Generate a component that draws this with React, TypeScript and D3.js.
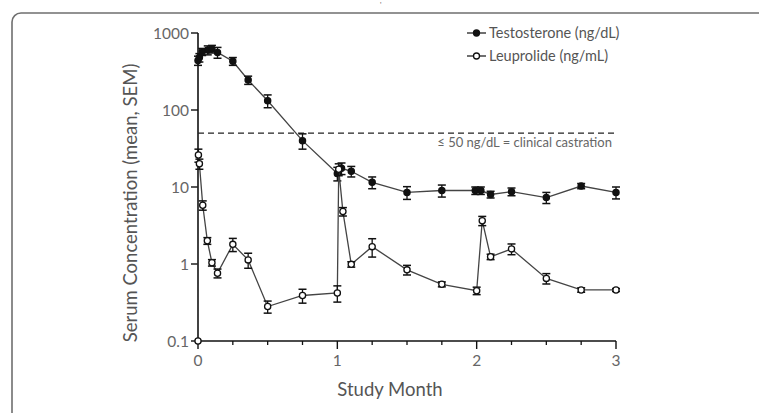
import {useEffect, useRef} from "react";
import * as d3 from 'd3'

// study month / value / SEM
const testoMonths = [0, 0.01, 0.03, 0.07, 0.1, 0.14, 0.25, 0.36, 0.5, 0.75, 1.0, 1.03, 1.1, 1.25, 1.5, 1.75, 1.99, 2.03, 2.1, 2.25, 2.5, 2.75, 3.0]
const testoValues = [440, 480, 570, 600, 620, 560, 430, 245, 132, 40, 15, 17.5, 16, 11.5, 8.5, 9, 9, 9, 8, 8.7, 7.3, 10.3, 8.5]
const testoSem = [60, 60, 60, 80, 70, 90, 50, 30, 25, 9, 3, 3, 2.5, 2, 1.6, 1.6, 1, 1, 0.8, 1, 1.2, 0.8, 1.5]

const leupMonths = [0, 0.003, 0.01, 0.034, 0.067, 0.1, 0.14, 0.25, 0.36, 0.5, 0.75, 1.0, 1.01, 1.04, 1.1, 1.25, 1.5, 1.75, 2.0, 2.04, 2.1, 2.25, 2.5, 2.75, 3.0]
const leupValues = [0.1, 26, 20, 5.8, 2.0, 1.04, 0.76, 1.8, 1.13, 0.28, 0.39, 0.42, 17, 4.8, 0.99, 1.68, 0.84, 0.545, 0.45, 3.65, 1.24, 1.57, 0.65, 0.46, 0.46]
const leupSem = [0, 5, 3, 0.8, 0.2, 0.1, 0.1, 0.35, 0.25, 0.05, 0.08, 0.1, 3, 0.6, 0.08, 0.45, 0.12, 0.04, 0.05, 0.5, 0.1, 0.25, 0.1, 0.03, 0.02]

const yTicks = [0.1, 1, 10, 100, 1000]
const yTickLabels = ["0.1", "1", "10", "100", "1000"]
const xMajor = [0, 1, 2, 3]
const xMinor = [0.25, 0.5, 0.75, 1.25, 1.5, 1.75, 2.25, 2.5, 2.75]
const castration = 50

const FONT = "Lato, 'Open Sans', sans-serif"

const App = () => {
    const svgRef = useRef<SVGSVGElement>(null)

    useEffect(() => {
        const svg = d3.select(svgRef.current)
        svg.selectAll("*").remove()

        const x = d3.scaleLinear().domain([0, 3]).range([198, 616])
        const y = d3.scaleLog().domain([0.1, 1000]).range([341, 33])

        // frame
        svg.append("rect")
            .attr("x", 12).attr("y", 13).attr("width", 770).attr("height", 430)
            .attr("rx", 9).attr("fill", "none").attr("stroke", "#6f6f6f").attr("stroke-width", 1.6)

        svg.append("text").attr("x", 380).attr("y", 8).attr("font-size", 8).attr("fill", "#666").text("'")

        // y axis
        const yAxis = svg.append("g")
        yAxis.append("line").attr("x1", x(0)).attr("x2", x(0)).attr("y1", y(1000)).attr("y2", y(0.1))
            .attr("stroke", "#111").attr("stroke-width", 1.6)
        yTicks.forEach((t, i) => {
            yAxis.append("line").attr("x1", x(0) - 7).attr("x2", x(0)).attr("y1", y(t)).attr("y2", y(t))
                .attr("stroke", "#111").attr("stroke-width", 1.4)
            yAxis.append("text").attr("x", x(0) - 9).attr("y", y(t)).attr("dy", "0.36em")
                .attr("text-anchor", "end").attr("font-family", FONT).attr("font-size", 15.5).attr("fill", "#666")
                .text(yTickLabels[i])
        })

        // x axis
        const xAxis = svg.append("g")
        xAxis.append("line").attr("x1", x(0)).attr("x2", x(3)).attr("y1", y(0.1)).attr("y2", y(0.1))
            .attr("stroke", "#111").attr("stroke-width", 1.6)
        xMajor.forEach(t => {
            xAxis.append("line").attr("x1", x(t)).attr("x2", x(t)).attr("y1", y(0.1)).attr("y2", y(0.1) + 8)
                .attr("stroke", "#111").attr("stroke-width", 1.4)
            xAxis.append("text").attr("x", x(t)).attr("y", y(0.1) + 25)
                .attr("text-anchor", "middle").attr("font-family", FONT).attr("font-size", 15.5).attr("fill", "#666")
                .text(String(t))
        })
        xMinor.forEach(t => {
            xAxis.append("line").attr("x1", x(t)).attr("x2", x(t)).attr("y1", y(0.1)).attr("y2", y(0.1) + 4)
                .attr("stroke", "#111").attr("stroke-width", 1.3)
        })

        // axis titles
        svg.append("text").attr("transform", `translate(137,203) rotate(-90)`)
            .attr("text-anchor", "middle").attr("font-family", FONT).attr("font-size", 18.5).attr("fill", "#555")
            .text("Serum Concentration (mean, SEM)")
        svg.append("text").attr("x", 390).attr("y", 396)
            .attr("text-anchor", "middle").attr("font-family", FONT).attr("font-size", 18.5).attr("fill", "#555")
            .text("Study Month")

        // castration threshold
        svg.append("line").attr("x1", x(0)).attr("x2", x(3)).attr("y1", y(castration)).attr("y2", y(castration))
            .attr("stroke", "#222").attr("stroke-width", 1.3).attr("stroke-dasharray", "6,4")
        svg.append("text").attr("x", 612).attr("y", y(castration) + 14)
            .attr("text-anchor", "end").attr("font-family", FONT).attr("font-size", 13).attr("fill", "#666")
            .text("≤ 50 ng/dL = clinical castration")

        const series = [
            {months: testoMonths, values: testoValues, sem: testoSem, fill: "#111"},
            {months: leupMonths, values: leupValues, sem: leupSem, fill: "#fff"},
        ]

        const line = d3.line<number>()
        series.forEach(s => {
            const pts = s.months.map((m, i) => [x(m), y(s.values[i])] as [number, number])
            svg.append("path").attr("d", line(pts as any))
                .attr("fill", "none").attr("stroke", "#444").attr("stroke-width", 1.3)

            const g = svg.append("g")
            s.months.forEach((m, i) => {
                const e = s.sem[i]
                if (e > 0) {
                    const lo = Math.max(s.values[i] - e, 0.1)
                    const hi = s.values[i] + e
                    g.append("line").attr("x1", x(m)).attr("x2", x(m)).attr("y1", y(lo)).attr("y2", y(hi))
                        .attr("stroke", "#111").attr("stroke-width", 1.3)
                    ;[lo, hi].forEach(v => {
                        g.append("line").attr("x1", x(m) - 4).attr("x2", x(m) + 4).attr("y1", y(v)).attr("y2", y(v))
                            .attr("stroke", "#111").attr("stroke-width", 1.5)
                    })
                }
            })
            s.months.forEach((m, i) => {
                g.append("circle").attr("cx", x(m)).attr("cy", y(s.values[i])).attr("r", 3.1)
                    .attr("fill", s.fill).attr("stroke", "#111").attr("stroke-width", 1.3)
            })
        })

        // legend
        const legend = [
            {label: "Testosterone (ng/dL)", fill: "#111", y: 33},
            {label: "Leuprolide (ng/mL)", fill: "#fff", y: 56},
        ]
        legend.forEach(l => {
            svg.append("line").attr("x1", 467).attr("x2", 486).attr("y1", l.y).attr("y2", l.y)
                .attr("stroke", "#333").attr("stroke-width", 1.4)
            svg.append("circle").attr("cx", 476.5).attr("cy", l.y).attr("r", 3)
                .attr("fill", l.fill).attr("stroke", "#111").attr("stroke-width", 1.3)
            svg.append("text").attr("x", 489).attr("y", l.y).attr("dy", "0.35em")
                .attr("font-family", FONT).attr("font-size", 14.5).attr("fill", "#555")
                .text(l.label)
        })
    }, [])

    return (
        <svg ref={svgRef} width={759} height={413}
             style={{position: "absolute", left: 0, top: 0, background: "#fff"}}/>
    )
}

export default App
